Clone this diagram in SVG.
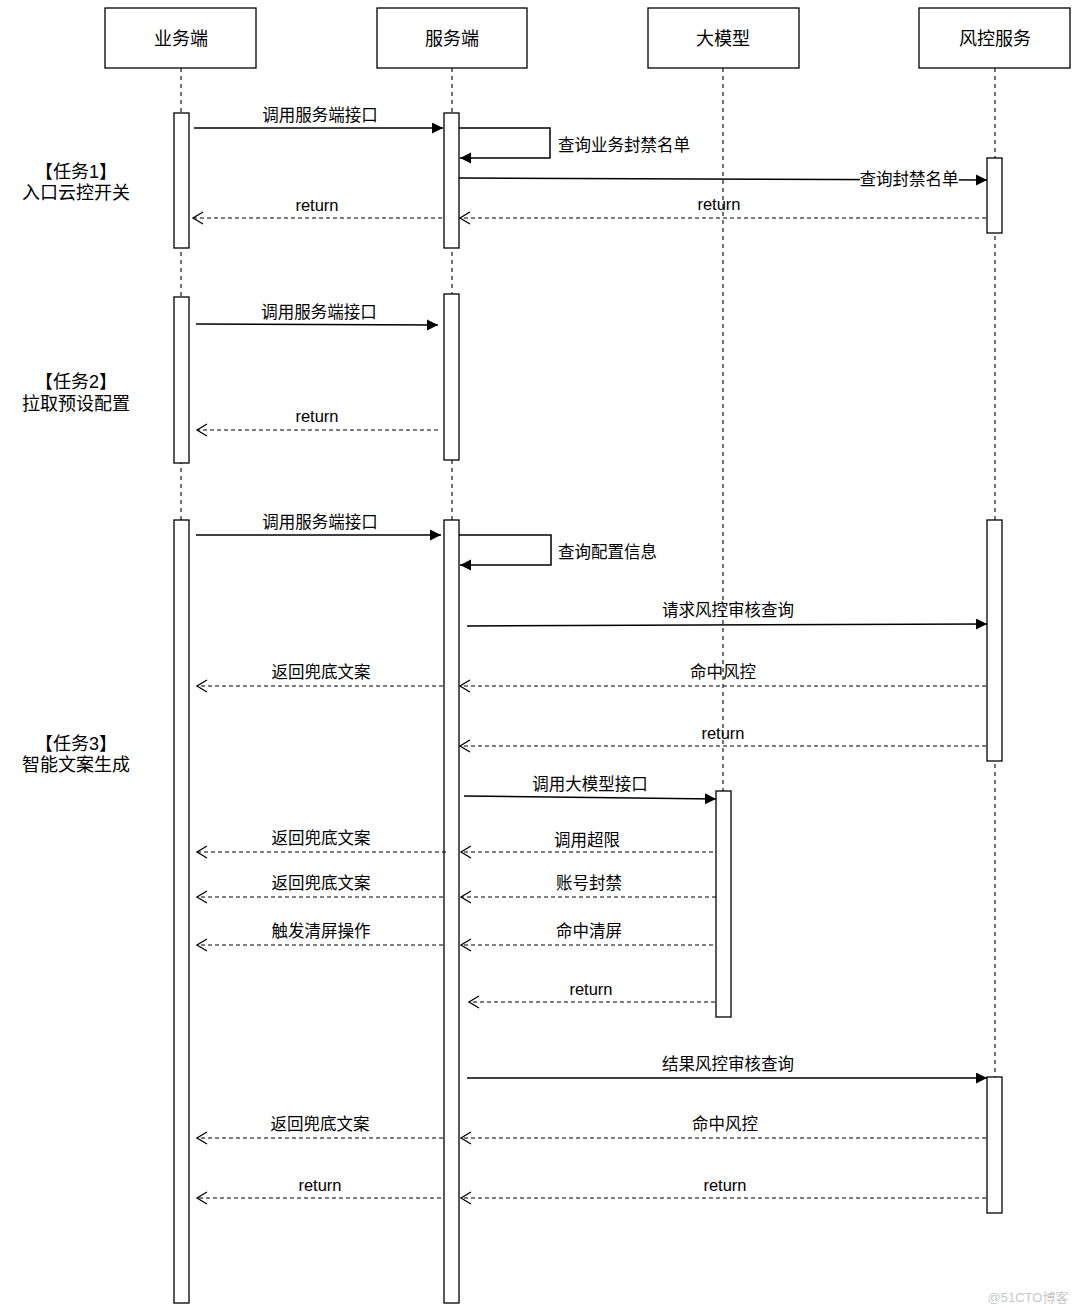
<svg xmlns="http://www.w3.org/2000/svg" width="1080" height="1313" viewBox="0 0 1080 1313">
<style>
text{font-family:"Liberation Sans","Noto Sans CJK SC",sans-serif;fill:#000;text-anchor:middle}
.hd{font-size:18px}
.lb{font-size:16.5px}
.tk{font-size:18px}
.box{fill:#fff;stroke:#000;stroke-width:1.3}
.act{fill:#fff;stroke:#000;stroke-width:1.3}
.life{stroke:#000;stroke-width:1.1;stroke-dasharray:4,4;fill:none}
.msg{stroke:#000;stroke-width:1.5;fill:none;marker-end:url(#solid)}
.ret{stroke:#000;stroke-width:1.2;fill:none;stroke-dasharray:4,3;marker-end:url(#open)}
</style>
<defs>
<marker id="solid" markerUnits="userSpaceOnUse" markerWidth="14" markerHeight="14" refX="11" refY="5.5" orient="auto"><path d="M0,0 L11,5.5 L0,11 z" fill="#000"/></marker>
<marker id="open" markerUnits="userSpaceOnUse" markerWidth="14" markerHeight="16" refX="11" refY="7" orient="auto"><path d="M1,1 L11,7 L1,13" fill="none" stroke="#000" stroke-width="1.3"/></marker>
</defs>
<rect width="1080" height="1313" fill="#fff"/>

<g id="lifelines">
<line class="life" x1="181" y1="68" x2="181" y2="1303"/>
<line class="life" x1="452" y1="68" x2="452" y2="1303"/>
<line class="life" x1="723" y1="68" x2="723" y2="1017"/>
<line class="life" x1="995" y1="68" x2="995" y2="1213"/>
</g>

<g id="node-yewuduan"><rect class="box" x="105" y="8" width="151" height="60"/><text class="hd" x="181" y="45">业务端</text></g>
<g id="node-fuwuduan"><rect class="box" x="377" y="8" width="150" height="60"/><text class="hd" x="452" y="45">服务端</text></g>
<g id="node-damoxing"><rect class="box" x="648" y="8" width="151" height="60"/><text class="hd" x="723" y="45">大模型</text></g>
<g id="node-fengkong"><rect class="box" x="919" y="8" width="151" height="60"/><text class="hd" x="995" y="45">风控服务</text></g>

<g id="activations">
<rect class="act" x="174" y="113" width="15" height="135"/>
<rect class="act" x="444" y="113" width="15" height="135"/>
<rect class="act" x="987" y="158" width="15" height="75"/>
<rect class="act" x="174" y="297" width="15" height="166"/>
<rect class="act" x="444" y="294" width="15" height="166"/>
<rect class="act" x="174" y="520" width="15" height="783"/>
<rect class="act" x="444" y="520" width="15" height="783"/>
<rect class="act" x="987" y="520" width="15" height="241"/>
<rect class="act" x="716" y="791" width="15" height="226"/>
<rect class="act" x="987" y="1077" width="15" height="136"/>
</g>

<g id="tasks">
<text class="tk" x="76" y="178">【任务1】</text>
<text class="tk" x="76" y="199">入口云控开关</text>
<text class="tk" x="76" y="388">【任务2】</text>
<text class="tk" x="76" y="410">拉取预设配置</text>
<text class="tk" x="76" y="750">【任务3】</text>
<text class="tk" x="76" y="771">智能文案生成</text>
</g>

<g id="connectors">
<!-- task 1 -->
<line class="msg" x1="194" y1="128" x2="443" y2="128"/>
<text class="lb" x="320" y="121">调用服务端接口</text>
<polyline class="msg" points="459,128 550,128 550,158 460,158"/>
<text class="lb" x="558" y="151" style="text-anchor:start">查询业务封禁名单</text>
<line class="msg" x1="459" y1="178" x2="987" y2="180"/>
<rect x="860" y="169" width="99" height="21" fill="#fff"/>
<text class="lb" x="909" y="185">查询封禁名单</text>
<line class="ret" x1="986" y1="218" x2="460" y2="218"/>
<text class="lb" x="719" y="210">return</text>
<line class="ret" x1="442" y1="218" x2="193" y2="218"/>
<text class="lb" x="317" y="211">return</text>

<!-- task 2 -->
<line class="msg" x1="196" y1="324" x2="438" y2="325"/>
<text class="lb" x="319" y="318">调用服务端接口</text>
<line class="ret" x1="438" y1="430" x2="197" y2="430"/>
<text class="lb" x="317" y="422">return</text>

<!-- task 3 -->
<line class="msg" x1="196" y1="535" x2="441" y2="535"/>
<text class="lb" x="320" y="528">调用服务端接口</text>
<polyline class="msg" points="459,535 551,535 551,565 460,565"/>
<text class="lb" x="558" y="558" style="text-anchor:start">查询配置信息</text>
<line class="msg" x1="467" y1="626" x2="987" y2="624"/>
<text class="lb" x="728" y="616">请求风控审核查询</text>
<line class="ret" x1="986" y1="686" x2="460" y2="686"/>
<text class="lb" x="723" y="678">命中风控</text>
<line class="ret" x1="443" y1="686" x2="197" y2="686"/>
<text class="lb" x="321" y="678">返回兜底文案</text>
<line class="ret" x1="986" y1="746" x2="460" y2="746"/>
<text class="lb" x="723" y="739">return</text>
<line class="msg" x1="464" y1="796" x2="716" y2="799"/>
<text class="lb" x="590" y="790">调用大模型接口</text>
<line class="ret" x1="713" y1="852" x2="461" y2="852"/>
<text class="lb" x="587" y="846">调用超限</text>
<line class="ret" x1="446" y1="852" x2="197" y2="852"/>
<text class="lb" x="321" y="844">返回兜底文案</text>
<line class="ret" x1="716" y1="897" x2="461" y2="897"/>
<text class="lb" x="589" y="889">账号封禁</text>
<line class="ret" x1="443" y1="897" x2="197" y2="897"/>
<text class="lb" x="321" y="889">返回兜底文案</text>
<line class="ret" x1="713" y1="945" x2="461" y2="945"/>
<text class="lb" x="589" y="937">命中清屏</text>
<line class="ret" x1="443" y1="945" x2="197" y2="945"/>
<text class="lb" x="321" y="937">触发清屏操作</text>
<line class="ret" x1="715" y1="1002" x2="469" y2="1002"/>
<text class="lb" x="591" y="995">return</text>
<line class="msg" x1="467" y1="1078" x2="987" y2="1078"/>
<text class="lb" x="728" y="1070">结果风控审核查询</text>
<line class="ret" x1="986" y1="1138" x2="461" y2="1138"/>
<text class="lb" x="725" y="1130">命中风控</text>
<line class="ret" x1="443" y1="1138" x2="197" y2="1138"/>
<text class="lb" x="320" y="1130">返回兜底文案</text>
<line class="ret" x1="986" y1="1198" x2="461" y2="1198"/>
<text class="lb" x="725" y="1191">return</text>
<line class="ret" x1="441" y1="1198" x2="197" y2="1198"/>
<text class="lb" x="320" y="1191">return</text>
</g>

<text x="1028" y="1302" style="font-size:13px;fill:#c8c8c8">@51CTO博客</text>
</svg>
